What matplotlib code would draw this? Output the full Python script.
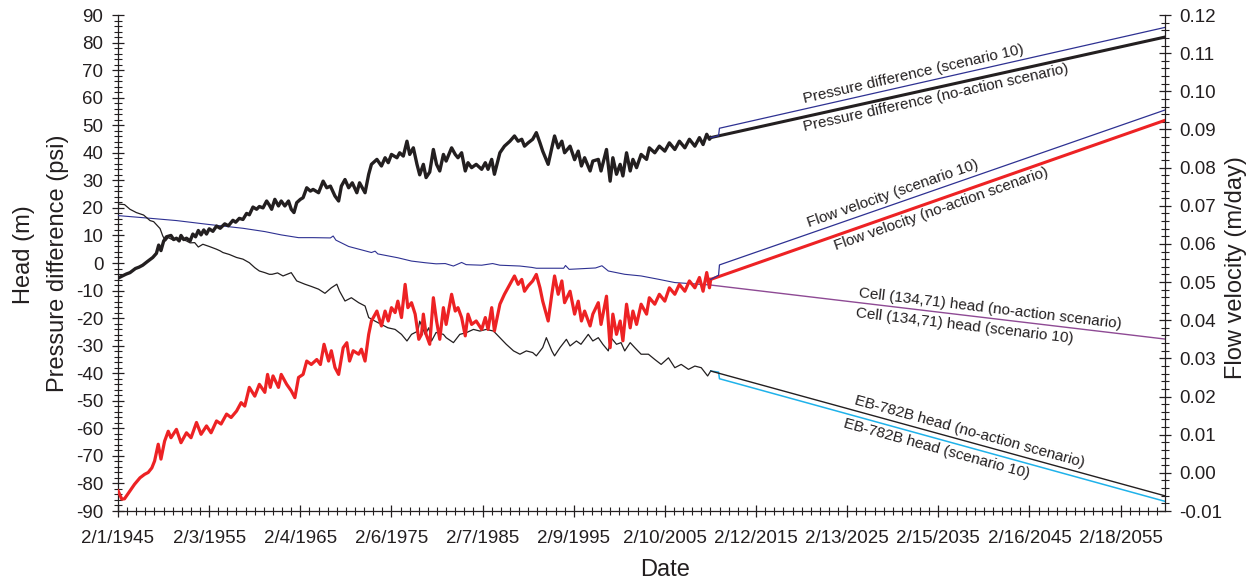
import datetime as dt
import math

import matplotlib
matplotlib.use("Agg")
import matplotlib.pyplot as plt
import matplotlib.dates as mdates
import matplotlib.transforms as mtransforms
from matplotlib.ticker import MultipleLocator, FixedLocator, FuncFormatter

plt.rcParams['font.family'] = ['Liberation Sans', 'DejaVu Sans']
plt.rcParams['axes.unicode_minus'] = False

# ---------------------------------------------------------------- data
# Historical record (decimal year, value)
pressure_diff_hist = [
    (1945.09, -5.5), (1945.5, -4.8), (1946.0, -4.0), (1946.4, -3.5), (1947.0, -2.0),
    (1947.4, -1.5), (1947.8, -0.8), (1948.3, 0.5), (1948.9, 2.0), (1949.3, 3.5),
    (1949.55, 6.5), (1949.8, 4.5), (1950.1, 8.0), (1950.4, 9.5), (1950.9, 10.0),
    (1951.2, 8.5), (1951.5, 9.0), (1951.8, 8.0), (1952.0, 10.0), (1952.3, 8.5),
    (1952.6, 9.0), (1953.0, 8.0), (1953.3, 10.5), (1953.6, 9.5), (1953.9, 11.8),
    (1954.2, 10.2), (1954.5, 12.0), (1954.8, 10.5), (1955.1, 12.4), (1955.5, 11.5),
    (1955.9, 13.4), (1956.3, 12.6), (1956.8, 14.2), (1957.2, 13.5), (1957.7, 15.5),
    (1958.0, 14.8), (1958.4, 16.2), (1958.8, 15.8), (1959.2, 18.0), (1959.5, 17.5),
    (1959.9, 20.3), (1960.3, 19.5), (1960.6, 20.5), (1961.0, 20.0), (1961.4, 22.5),
    (1961.7, 21.0), (1961.95, 19.5), (1962.3, 23.1), (1962.7, 20.7), (1963.0, 22.5),
    (1963.4, 20.7), (1963.8, 22.5), (1964.1, 19.5), (1964.4, 18.3), (1964.7, 21.9),
    (1965.1, 23.1), (1965.4, 23.7), (1965.8, 27.3), (1966.2, 26.1), (1966.5, 26.7),
    (1967.1, 25.5), (1967.6, 29.7), (1968.0, 27.3), (1968.4, 27.9), (1968.9, 24.3),
    (1969.3, 22.5), (1969.6, 27.9), (1970.0, 30.3), (1970.4, 27.3), (1970.8, 29.1),
    (1971.3, 25.5), (1971.6, 29.1), (1972.2, 25.5), (1972.6, 32.2), (1972.9, 35.8),
    (1973.5, 37.6), (1974.0, 35.2), (1974.4, 38.2), (1974.75, 36.4), (1975.1, 39.4),
    (1975.7, 38.2), (1976.0, 40.0), (1976.4, 38.8), (1976.8, 44.2), (1977.1, 39.4),
    (1977.5, 41.8), (1977.9, 35.8), (1978.2, 32.0), (1978.6, 35.8), (1978.9, 31.0),
    (1979.3, 33.0), (1979.7, 41.2), (1980.05, 35.8), (1980.4, 33.4), (1980.8, 39.4),
    (1981.1, 37.0), (1981.7, 41.8), (1982.1, 39.4), (1982.4, 38.2), (1982.8, 40.0),
    (1983.2, 33.4), (1983.5, 36.4), (1983.9, 34.6), (1984.4, 35.8), (1985.0, 34.0),
    (1985.4, 36.4), (1985.7, 34.0), (1986.1, 37.6), (1986.4, 32.2), (1987.0, 40.0),
    (1987.5, 42.4), (1988.1, 44.2), (1988.6, 46.1), (1989.0, 44.2), (1989.4, 44.9),
    (1989.7, 42.4), (1990.1, 43.6), (1990.6, 44.9), (1991.0, 47.3), (1991.4, 43.6),
    (1991.7, 40.6), (1992.3, 35.8), (1992.7, 41.8), (1993.0, 46.1), (1993.4, 41.8),
    (1993.8, 44.2), (1994.1, 40.0), (1994.7, 42.4), (1995.2, 37.5), (1995.6, 40.6),
    (1995.95, 35.2), (1996.3, 38.2), (1996.9, 33.4), (1997.2, 37.0), (1997.8, 37.6),
    (1998.1, 33.4), (1998.7, 41.2), (1999.1, 29.7), (1999.4, 38.2), (1999.8, 32.2),
    (2000.2, 35.8), (2000.5, 31.6), (2000.9, 40.0), (2001.3, 33.4), (2001.6, 37.6),
    (2002.0, 34.6), (2002.5, 39.4), (2003.1, 37.6), (2003.4, 41.8), (2004.0, 40.0),
    (2004.5, 42.4), (2005.1, 40.6), (2005.6, 43.6), (2006.2, 41.2), (2006.7, 44.2),
    (2007.3, 41.8), (2007.8, 44.9), (2008.4, 42.4), (2008.9, 45.5), (2009.3, 43.0),
    (2009.7, 46.7), (2010.0, 44.9), (2010.14, 45.5),
]

flow_velocity_hist = [
    (1945.09, -0.0047), (1945.5, -0.0069), (1945.8, -0.0068), (1946.4, -0.0047),
    (1946.9, -0.0030), (1947.5, -0.0013), (1948.0, -0.0004), (1948.4, 0.0001),
    (1948.8, 0.0013), (1949.1, 0.0031), (1949.5, 0.0075), (1949.8, 0.0036),
    (1950.2, 0.0083), (1950.6, 0.0109), (1950.9, 0.0092), (1951.5, 0.0114),
    (1952.0, 0.0079), (1952.6, 0.0105), (1953.1, 0.0092), (1953.7, 0.0132),
    (1954.2, 0.0101), (1954.8, 0.0123), (1955.3, 0.0105), (1955.9, 0.0136),
    (1956.4, 0.0128), (1957.0, 0.0154), (1957.5, 0.0145), (1958.1, 0.0162),
    (1958.6, 0.0184), (1959.0, 0.0175), (1959.5, 0.0224), (1960.1, 0.0201),
    (1960.6, 0.0232), (1961.2, 0.0211), (1961.5, 0.0258), (1961.8, 0.0224),
    (1962.1, 0.0254), (1962.7, 0.0224), (1963.0, 0.0258), (1963.6, 0.0232),
    (1964.1, 0.0215), (1964.5, 0.0197), (1964.9, 0.0250), (1965.4, 0.0258),
    (1965.8, 0.0293), (1966.3, 0.0284), (1966.9, 0.0297), (1967.3, 0.0284),
    (1967.7, 0.0337), (1968.2, 0.0293), (1968.5, 0.0320), (1968.9, 0.0276),
    (1969.3, 0.0258), (1969.8, 0.0328), (1970.2, 0.0341), (1970.5, 0.0293),
    (1970.9, 0.0320), (1971.5, 0.0311), (1971.8, 0.0324), (1972.2, 0.0293),
    (1972.6, 0.0363), (1972.9, 0.0398), (1973.5, 0.0424), (1974.0, 0.0385),
    (1974.4, 0.0424), (1974.75, 0.0398), (1975.1, 0.0433), (1975.5, 0.0420),
    (1975.8, 0.0450), (1976.2, 0.0407), (1976.6, 0.0494), (1976.9, 0.0433),
    (1977.3, 0.0446), (1977.7, 0.0416), (1978.1, 0.0350), (1978.4, 0.0363),
    (1978.6, 0.0416), (1978.9, 0.0363), (1979.3, 0.0337), (1979.7, 0.0459),
    (1980.05, 0.0398), (1980.4, 0.0350), (1980.8, 0.0433), (1981.1, 0.0389),
    (1981.7, 0.0468), (1982.1, 0.0424), (1982.4, 0.0433), (1982.8, 0.0407),
    (1983.2, 0.0359), (1983.5, 0.0416), (1983.9, 0.0389), (1984.4, 0.0398),
    (1985.0, 0.0376), (1985.4, 0.0407), (1985.7, 0.0376), (1986.1, 0.0433),
    (1986.4, 0.0372), (1987.0, 0.0442), (1987.5, 0.0468), (1988.1, 0.0494),
    (1988.6, 0.0516), (1989.0, 0.0494), (1989.4, 0.0507), (1989.7, 0.0476),
    (1990.1, 0.0490), (1990.6, 0.0503), (1991.0, 0.0520), (1991.4, 0.0485),
    (1991.7, 0.0450), (1992.3, 0.0398), (1992.7, 0.0468), (1993.0, 0.0516),
    (1993.4, 0.0468), (1993.8, 0.0503), (1994.1, 0.0446), (1994.7, 0.0476),
    (1995.2, 0.0416), (1995.6, 0.0450), (1995.95, 0.0398), (1996.3, 0.0424),
    (1996.9, 0.0385), (1997.2, 0.0416), (1997.8, 0.0446), (1998.1, 0.0389),
    (1998.7, 0.0463), (1999.1, 0.0328), (1999.4, 0.0416), (1999.8, 0.0363),
    (2000.2, 0.0398), (2000.5, 0.0346), (2000.9, 0.0442), (2001.3, 0.0380),
    (2001.6, 0.0424), (2002.0, 0.0389), (2002.5, 0.0442), (2003.1, 0.0416),
    (2003.4, 0.0459), (2004.0, 0.0442), (2004.5, 0.0468), (2005.1, 0.0450),
    (2005.6, 0.0485), (2006.2, 0.0468), (2006.7, 0.0494), (2007.3, 0.0476),
    (2007.8, 0.0503), (2008.4, 0.0485), (2008.9, 0.0512), (2009.3, 0.0476),
    (2009.7, 0.0525), (2010.0, 0.0485), (2010.14, 0.0507),
]

cell_head_hist = [
    (1945.09, 17.2), (1948.0, 16.4), (1951.5, 15.4), (1955.0, 14.0), (1958.8, 12.6),
    (1961.2, 11.4), (1963.0, 10.2), (1964.9, 9.2), (1966.5, 9.2), (1968.4, 9.1),
    (1968.7, 9.8), (1969.0, 8.3), (1970.4, 6.0), (1972.0, 4.6), (1972.9, 3.8),
    (1973.3, 4.3), (1973.6, 3.3), (1975.8, 1.9), (1977.3, 0.7), (1978.8, 0.1),
    (1980.0, -0.3), (1981.0, -0.2), (1981.9, -1.1), (1982.8, 0.2), (1983.3, -0.6),
    (1985.0, -0.8), (1986.2, -0.2), (1987.0, -0.8), (1989.2, -1.1), (1990.5, -1.6),
    (1991.0, -1.9), (1994.0, -1.9), (1994.2, -0.9), (1994.6, -2.3), (1995.8, -2.1),
    (1997.5, -1.8), (1998.2, -1.0), (1998.9, -2.9), (2000.7, -4.1), (2002.5, -4.7),
    (2004.4, -5.9), (2006.2, -7.1), (2008.0, -7.5), (2010.14, -8.0),
]

eb_head_hist = [
    (1945.09, 21.4), (1945.8, 21.2), (1946.4, 19.5), (1947.1, 18.3), (1947.9, 17.4),
    (1948.6, 15.4), (1949.0, 15.0), (1949.7, 12.5), (1950.0, 9.8), (1950.3, 8.0),
    (1950.6, 9.2), (1951.1, 8.4), (1951.5, 8.8), (1951.9, 9.0), (1952.6, 8.0),
    (1953.0, 7.3), (1953.5, 7.4), (1953.9, 5.8), (1954.4, 6.8), (1955.1, 6.0),
    (1955.9, 5.0), (1956.3, 4.4), (1956.6, 3.8), (1957.3, 3.1), (1958.1, 2.0),
    (1958.8, 1.4), (1959.5, 0.1), (1960.1, -1.7), (1960.6, -2.9), (1961.2, -3.5),
    (1961.7, -4.1), (1962.0, -4.1), (1962.6, -3.6), (1963.2, -4.7), (1964.1, -3.5),
    (1964.7, -6.5), (1965.6, -7.7), (1966.3, -8.5), (1967.1, -9.5), (1967.8, -11.0),
    (1968.5, -9.0), (1969.1, -7.7), (1969.4, -10.2), (1970.0, -13.8), (1970.7, -12.6),
    (1971.5, -14.4), (1972.2, -15.6), (1972.6, -19.8), (1973.3, -21.1), (1974.0, -22.3),
    (1974.7, -23.5), (1975.5, -24.1), (1976.2, -25.9), (1976.8, -28.3), (1977.3, -25.9),
    (1978.0, -24.7), (1978.2, -21.1), (1978.8, -25.9), (1979.2, -23.5), (1979.5, -28.3),
    (1980.0, -25.2), (1980.8, -25.9), (1981.1, -27.1), (1981.9, -28.9), (1982.6, -25.9),
    (1983.3, -25.3), (1984.1, -24.1), (1984.8, -24.7), (1985.5, -24.1), (1986.3, -24.7),
    (1987.0, -27.1), (1987.7, -29.5), (1988.5, -31.9), (1989.2, -33.1), (1989.9, -31.9),
    (1990.6, -32.5), (1991.0, -33.7), (1991.7, -30.7), (1992.1, -27.1), (1992.7, -31.9),
    (1993.0, -33.7), (1993.6, -30.7), (1994.3, -27.7), (1994.7, -30.1), (1995.4, -28.3),
    (1995.9, -29.5), (1996.7, -25.9), (1997.2, -28.3), (1997.8, -27.1), (1998.3, -29.5),
    (1998.9, -31.9), (1999.2, -27.1), (1999.8, -29.5), (2000.3, -28.9), (2000.7, -31.9),
    (2001.3, -28.9), (2001.8, -30.7), (2002.5, -33.1), (2003.3, -33.1), (2004.0, -35.0),
    (2004.7, -36.8), (2005.5, -34.4), (2006.2, -38.0), (2006.9, -36.8), (2007.7, -38.6),
    (2008.4, -37.4), (2009.1, -38.0), (2009.8, -41.0), (2010.14, -39.2),
]

# Projections 2010-2060
pressure_diff_noaction = [(2010.14, 45.5), (2060.0, 82.0)]
pressure_diff_s10 = [(2010.14, 45.5), (2011.0, 46.2), (2011.1, 48.9), (2060.0, 85.5)]
flow_velocity_noaction = [(2010.14, 0.0507), (2060.0, 0.0924)]
flow_velocity_s10 = [(2010.14, 0.0507), (2011.0, 0.0518), (2011.1, 0.0545), (2060.0, 0.0951)]
cell_head_future = [(2010.14, -8.0), (2060.0, -27.6)]
eb_head_noaction = [(2010.14, -39.2), (2060.0, -84.5)]
eb_head_s10 = [(2010.14, -39.2), (2011.0, -39.6), (2011.1, -42.0), (2060.0, -86.5)]

date_tick_labels = ["2/1/1945", "2/3/1955", "2/4/1965", "2/6/1975", "2/7/1985",
                    "2/9/1995", "2/10/2005", "2/12/2015", "2/13/2025", "2/15/2035",
                    "2/16/2045", "2/18/2055"]

# ---------------------------------------------------------------- helpers
def yr2num(y):
    y0 = int(math.floor(y))
    a = mdates.date2num(dt.datetime(y0, 1, 1))
    b = mdates.date2num(dt.datetime(y0 + 1, 1, 1))
    return a + (y - y0) * (b - a)


def xy(series):
    return [yr2num(t) for t, _ in series], [v for _, v in series]


BLACK = '#231f20'
RED = '#ed2224'
BLUE = '#2e3192'
CYAN = '#1fb2ea'
PURPLE = '#8e4a94'

W, H = 1255, 586
fig = plt.figure(figsize=(W / 100, H / 100), dpi=100)
ax = fig.add_axes([118 / W, 1 - 511 / H, (1165 - 118) / W, (511 - 15) / H])
ax2 = ax.twinx()

# ---------------------------------------------------------------- lines
ax.plot(*xy(cell_head_hist), color=BLUE, lw=0.8, zorder=3)
ax.plot(*xy(cell_head_future), color=PURPLE, lw=1.0, zorder=3)
ax.plot(*xy(eb_head_hist), color=BLACK, lw=0.9, zorder=3)
ax.plot(*xy(eb_head_s10), color=CYAN, lw=1.1, zorder=3)
ax.plot(*xy(eb_head_noaction), color=BLACK, lw=1.0, zorder=4)
ax.plot(*xy(pressure_diff_hist), color=BLACK, lw=2.4, zorder=4)
ax.plot(*xy(pressure_diff_noaction), color=BLACK, lw=2.2, zorder=4)
ax.plot(*xy(pressure_diff_s10), color=BLUE, lw=0.9, zorder=5)

ax2.plot(*xy(flow_velocity_hist), color=RED, lw=2.3, zorder=3)
ax2.plot(*xy(flow_velocity_noaction), color=RED, lw=2.2, zorder=3)
ax2.plot(*xy(flow_velocity_s10), color=BLUE, lw=0.9, zorder=4)

# ---------------------------------------------------------------- axes
x_start = mdates.date2num(dt.datetime(1945, 2, 1))
x_end = mdates.date2num(dt.datetime(2060, 1, 1))
ax.set_xlim(x_start, x_end)
ax.set_ylim(-90, 90)
ax2.set_ylim(-0.01, 0.12)

major_x = [mdates.date2num(dt.datetime.strptime(s, "%m/%d/%Y")) for s in date_tick_labels]
minor_x = [x_start + k * 365.4 for k in range(0, 116) if x_start + k * 365.4 <= x_end]
ax.xaxis.set_major_locator(FixedLocator(major_x))
ax.xaxis.set_minor_locator(FixedLocator(minor_x))
ax.set_xticklabels(date_tick_labels)

ax.yaxis.set_major_locator(MultipleLocator(10))
ax.yaxis.set_minor_locator(MultipleLocator(2))
ax2.yaxis.set_major_locator(MultipleLocator(0.01))
ax2.yaxis.set_minor_locator(MultipleLocator(0.002))
ax2.yaxis.set_major_formatter(FuncFormatter(lambda v, p: f"{v:.2f}".replace("\u2212", "-")))

for a in (ax, ax2):
    a.spines['top'].set_visible(False)
    for s in a.spines.values():
        s.set_linewidth(0.9)
        s.set_color(BLACK)
ax.spines['right'].set_visible(False)
ax2.spines['left'].set_visible(False)
ax2.spines['bottom'].set_visible(False)

ax.tick_params(axis='both', which='major', direction='inout', length=9, width=0.9,
               labelsize=13.5, colors=BLACK)
ax.tick_params(axis='both', which='minor', direction='inout', length=6, width=0.8,
               colors=BLACK)
ax.tick_params(axis='y', which='major', pad=6)
ax.tick_params(axis='x', which='major', pad=9)
ax2.tick_params(axis='y', which='major', direction='inout', length=9, width=0.9,
                labelsize=13.5, colors=BLACK, pad=6)
ax2.tick_params(axis='y', which='minor', direction='inout', length=6, width=0.8,
                colors=BLACK)

# ---------------------------------------------------------------- axis titles
fig.text(24 / W, 1 - 255 / H, "Head (m)", rotation=90, ha='center', va='center',
         fontsize=17, color=BLACK)
fig.text(58 / W, 1 - 263 / H, "Pressure difference (psi)", rotation=90, ha='center',
         va='center', fontsize=17, color=BLACK)
fig.text(1236 / W, 1 - 268 / H, "Flow velocity (m/day)", rotation=90, ha='center',
         va='center', fontsize=17, color=BLACK)
fig.text(665 / W, 1 - 570 / H, "Date", ha='center', va='center', fontsize=17,
         color=BLACK)

# ---------------------------------------------------------------- line labels
fig.canvas.draw()


def line_label(axis, series, year, text, offset):
    (t0, v0), (t1, v1) = series[-2], series[-1]
    p0 = axis.transData.transform((yr2num(t0), v0))
    p1 = axis.transData.transform((yr2num(t1), v1))
    ang = math.atan2(p1[1] - p0[1], p1[0] - p0[0])
    v = v0 + (v1 - v0) * (year - t0) / (t1 - t0)
    dx = -math.sin(ang) * offset
    dy = math.cos(ang) * offset
    tr = mtransforms.offset_copy(axis.transData, fig=fig, x=dx, y=dy, units='dots')
    axis.text(yr2num(year), v, text, transform=tr, rotation=math.degrees(ang),
              rotation_mode='anchor', ha='center', va='center', fontsize=11,
              color=BLACK, zorder=6)


line_label(ax, pressure_diff_s10, 2032.6, "Pressure difference (scenario 10)", 10)
line_label(ax, pressure_diff_noaction, 2034.6, "Pressure difference (no-action scenario)", -10)
line_label(ax2, flow_velocity_s10, 2030.5, "Flow velocity (scenario 10)", 10)
line_label(ax2, flow_velocity_noaction, 2035.1, "Flow velocity (no-action scenario)", -10)
line_label(ax, cell_head_future, 2040.7, "Cell (134,71) head (no-action scenario)", 10)
line_label(ax, cell_head_future, 2038.1, "Cell (134,71) head (scenario 10)", -11)
line_label(ax, eb_head_noaction, 2038.3, "EB-782B head (no-action scenario)", 10)
line_label(ax, eb_head_s10, 2035.2, "EB-782B head (scenario 10)", -10)

fig.savefig("out.png", dpi=100)
